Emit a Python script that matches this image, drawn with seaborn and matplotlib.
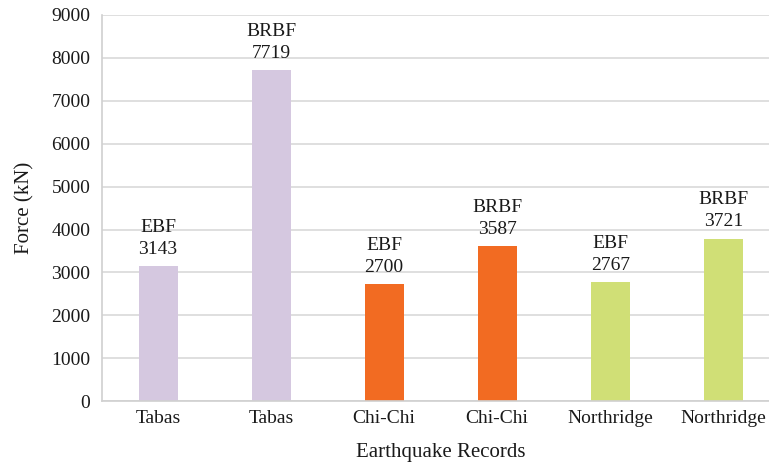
import numpy as np
import pandas as pd
import matplotlib.pyplot as plt
import seaborn as sns

# Data
records = ["Tabas", "Tabas", "Chi-Chi", "Chi-Chi", "Northridge", "Northridge"]
systems = ["EBF", "BRBF", "EBF", "BRBF", "EBF", "BRBF"]
labels = [3143, 7719, 2700, 3587, 2767, 3721]
heights = [3143, 7719, 2730, 3610, 2767, 3790]
colors = ["#d5c8e0", "#d5c8e0", "#f26b22", "#f26b22", "#d0df76", "#d0df76"]

df = pd.DataFrame({"pos": range(len(records)), "force": heights})

sns.set_style("white")
plt.rcParams["font.family"] = ["Liberation Serif", "DejaVu Serif"]

fig = plt.figure(figsize=(7.69, 4.66), dpi=100)
ax = fig.add_axes([0.132, 0.139, 0.882, 0.829])

sns.barplot(data=df, x="pos", y="force", hue="pos", palette=colors,
            legend=False, width=0.345, saturation=1, linewidth=0, ax=ax)

# Value labels above bars
for i, (s, v, h) in enumerate(zip(systems, labels, heights)):
    ax.text(i, h + 190, f"{s}\n{v}", ha="center", va="bottom",
            fontsize=14, linespacing=1.4, color="#1a1a1a")

ax.set_ylim(0, 9000)
ax.set_yticks(np.arange(0, 9001, 1000))
ax.set_xticks(range(len(records)))
ax.set_xticklabels(records)
ax.tick_params(axis="both", labelsize=14, length=0, colors="#1a1a1a")
ax.tick_params(axis="y", pad=8)
ax.tick_params(axis="x", pad=6)

ax.yaxis.grid(True, color="#d9d9d9", linewidth=1.2)
ax.set_axisbelow(True)
for side in ["top", "right"]:
    ax.spines[side].set_visible(False)
for side in ["left", "bottom"]:
    ax.spines[side].set_color("#d0d0d0")
    ax.spines[side].set_linewidth(1.2)

ax.set_xlabel("Earthquake Records", fontsize=15, labelpad=12, color="#1a1a1a")
ax.set_ylabel("Force (kN)", fontsize=15, labelpad=12, color="#1a1a1a")

fig.savefig("out.png", dpi=100)
